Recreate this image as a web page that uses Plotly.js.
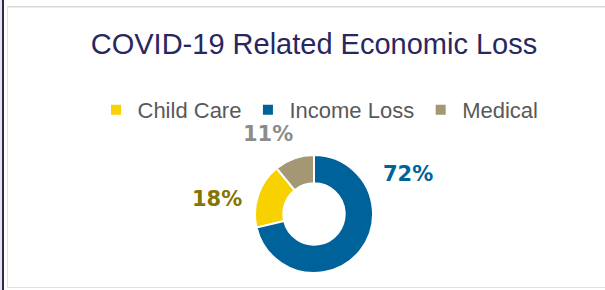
<!DOCTYPE html>
<html>
<head>
<meta charset="utf-8">
<script src="https://cdn.plot.ly/plotly-3.0.1.min.js"></script>
<style>
  html, body { margin: 0; padding: 0; background: #ffffff; overflow: hidden; }
  #wrap { position: relative; width: 605px; height: 290px; }
  #chart { position: absolute; left: 0; top: 0; width: 605px; height: 290px; }
  .ln { position: absolute; pointer-events: none; }
</style>
</head>
<body>
<div id="wrap">
  <div id="chart"></div>
  <div class="ln" style="left:0;top:0;width:2px;height:290px;background:#e6e6ea;"></div>
  <div class="ln" style="left:2px;top:0;width:2px;height:290px;background:#2a2b55;"></div>
  <div class="ln" style="left:7px;top:6px;width:598px;height:1px;background:#d6d6d6;"></div>
  <div class="ln" style="left:7px;top:7px;width:598px;height:1px;background:#ececec;"></div>
  <div class="ln" style="left:7px;top:6px;width:1px;height:281px;background:#e4e4e4;"></div>
  <div class="ln" style="left:7px;top:287px;width:598px;height:1px;background:#e2e2e2;"></div>
</div>
<script>
var categories = ["Child Care", "Income Loss", "Medical"];
var values = [18, 72, 11];
var sliceColors = ["#f7d100", "#00629b", "#a39873"];
var labelColors = ["#857400", "#00629b", "#8c8c8c"];
var labelPos = [[0.359, 0.314], [0.674, 0.40], [0.443, 0.538]];

var total = values.reduce(function (a, b) { return a + b; }, 0);

var trace = {
  type: "pie",
  labels: categories,
  values: values,
  sort: false,
  direction: "counterclockwise",
  rotation: -360 * (values[0] + values[2]) / total,
  hole: 0.52,
  marker: { colors: sliceColors, line: { color: "#ffffff", width: 2 } },
  textinfo: "none",
  hoverinfo: "none",
  domain: { x: [255 / 605, 373 / 605], y: [1 - 273 / 290, 1 - 155 / 290] }
};

var annotations = categories.map(function (c, i) {
  return {
    xref: "paper", yref: "paper",
    x: labelPos[i][0], y: labelPos[i][1],
    xanchor: "center", yanchor: "middle",
    text: values[i] + "%",
    showarrow: false,
    font: { family: "DejaVu Sans", size: 21, color: labelColors[i], weight: "bold" }
  };
});

var layout = {
  width: 605, height: 290,
  margin: { l: 0, r: 0, t: 0, b: 0 },
  paper_bgcolor: "#ffffff",
  plot_bgcolor: "#ffffff",
  title: {
    text: "COVID-19 Related Economic Loss",
    x: 314 / 605, xanchor: "center", xref: "paper",
    y: 1 - 44 / 290, yanchor: "middle", yref: "paper",
    font: { family: "Liberation Sans, Arial", size: 29, color: "#29285e" }
  },
  showlegend: true,
  legend: {
    orientation: "h",
    x: 319 / 605, xanchor: "center",
    y: 1 - 110 / 290, yanchor: "middle",
    itemwidth: 33,
    font: { family: "Liberation Sans, Arial", size: 22, color: "#595959" },
    bgcolor: "rgba(0,0,0,0)",
    itemclick: false, itemdoubleclick: false
  },
  annotations: annotations
};

Plotly.newPlot("chart", [trace], layout, { displayModeBar: false, staticPlot: true });
</script>
</body>
</html>
